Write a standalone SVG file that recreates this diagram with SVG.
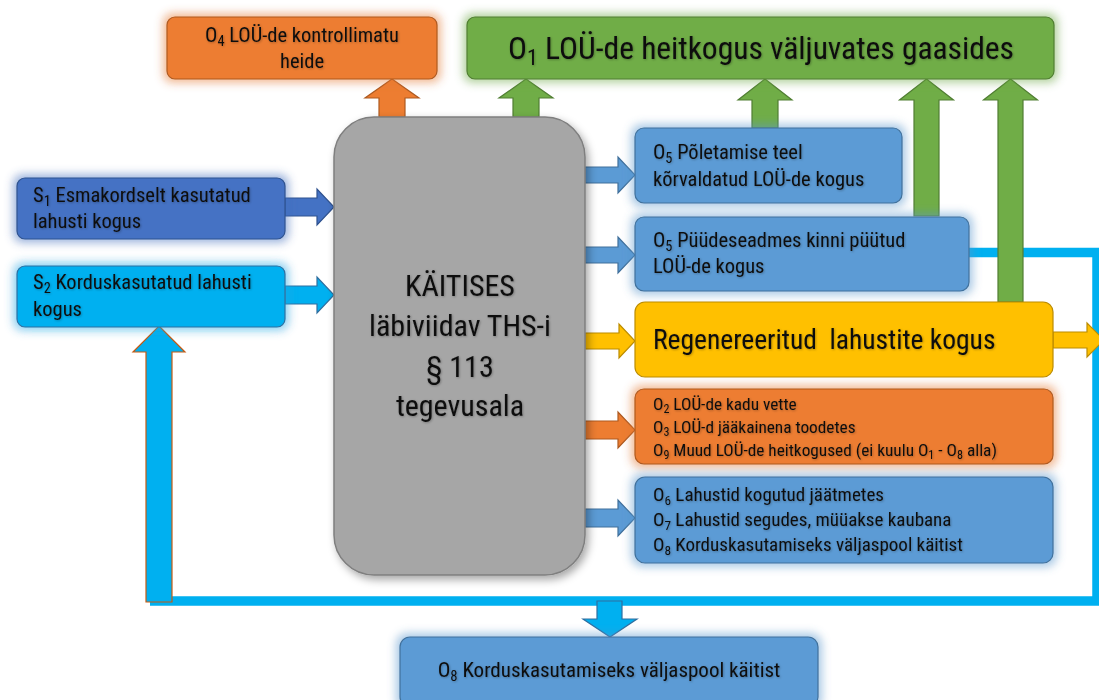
<svg xmlns="http://www.w3.org/2000/svg" width="1099" height="700" viewBox="0 0 1099 700">
<defs>
<style>
text{font-family:"Roboto Condensed","Liberation Sans Narrow",Roboto,"Liberation Sans",sans-serif;fill:#111;white-space:pre;}
.sub{font-size:70%;}
.orange{fill:#ed7d31;stroke:#ae5a21;stroke-width:1.2;}
.green{fill:#70ad47;stroke:#507e32;stroke-width:1.2;}
.blue{fill:#5b9bd5;stroke:#41719c;stroke-width:1.2;}
.dblue{fill:#4472c4;stroke:#2f528f;stroke-width:1.2;}
.cyan{fill:#00b0f0;stroke:#2f6fa0;stroke-width:1.2;}
.yellow{fill:#ffc000;stroke:#bc8c00;stroke-width:1.2;}
.gray{fill:#a6a6a6;stroke:#7f7f7f;stroke-width:1.5;}
</style>
<filter id="glow" x="-20%" y="-40%" width="140%" height="180%">
<feMorphology in="SourceGraphic" operator="dilate" radius="3" result="d"/>
<feGaussianBlur in="d" stdDeviation="5" result="b"/>
<feComponentTransfer in="b" result="c"><feFuncA type="linear" slope="0.55"/></feComponentTransfer>
<feMerge><feMergeNode in="c"/><feMergeNode in="SourceGraphic"/></feMerge>
</filter>
<filter id="shadow" x="-20%" y="-10%" width="140%" height="120%">
<feDropShadow dx="3" dy="4" stdDeviation="4" flood-color="#000" flood-opacity="0.35"/>
</filter>
<filter id="ts" x="-5%" y="-20%" width="110%" height="140%">
<feDropShadow dx="0.8" dy="0.8" stdDeviation="0.8" flood-color="#000" flood-opacity="0.3"/>
</filter>
</defs>
<rect width="1099" height="700" fill="#fff"/>

<g id="connectors">
<polyline points="969,252.5 1097,252.5 1097,601 150,601" fill="none" stroke="#00b0f0" stroke-width="9.5"/>
<polygon class="cyan" points="159,326 185,352 172,352 172,602 146,602 146,352 133,352" style="stroke:#c55a11"/>
<polygon class="cyan" points="597,601 622,601 622,619 637,619 610,637 583,619 597,619"/>
<polygon class="orange" points="392,79 419,98 405,98 405,117 379,117 379,98 365,98"/>
<polygon class="green" points="526,79 553,98 539,98 539,117 513,117 513,98 499,98"/>
<polygon class="green" points="765,79 792,100 778,100 778,128 752,128 752,100 738,100"/>
<polygon class="green" points="926.5,79 953.5,100 939,100 939,216 914,216 914,100 899.5,100"/>
<polygon class="green" points="1010.5,79 1037.5,100 1023,100 1023,302 998,302 998,100 983.5,100"/>
<polygon class="dblue" points="285,198 317,198 317,189 334,207 317,225 317,216 285,216"/>
<polygon class="cyan" points="285,286 317,286 317,277 334,295 317,313 317,304 285,304"/>
<polygon class="blue" points="585,167 618,167 618,157 635,175 618,193 618,183 585,183"/>
<polygon class="blue" points="585,247 618,247 618,237 635,255 618,273 618,263 585,263"/>
<polygon class="yellow" points="585,333 619,333 619,324 635,341 619,358 619,349 585,349"/>
<polygon class="orange" points="585,421 618,421 618,412 635,430 618,448 618,439 585,439"/>
<polygon class="blue" points="585,509 618,509 618,500 635,518 618,536 618,527 585,527"/>
<polygon class="yellow" points="1053,332 1087,332 1087,323 1104,340 1087,357 1087,348 1053,348"/>
</g>

<g id="o4">
<rect class="orange" x="167" y="17" width="270" height="62" rx="8" filter="url(#glow)"/>
<text x="302" y="42" font-size="20.5" text-anchor="middle" filter="url(#ts)">O<tspan class="sub" dy="4">4</tspan><tspan dy="-4"> LOÜ-de kontrollimatu</tspan></text>
<text x="302" y="68" font-size="20.5" text-anchor="middle" filter="url(#ts)">heide</text>
</g>

<g id="o1">
<rect class="green" x="467" y="17" width="587" height="62" rx="8" filter="url(#glow)"/>
<text x="761" y="59" font-size="31.5" text-anchor="middle" filter="url(#ts)">O<tspan class="sub" dy="6">1</tspan><tspan dy="-6"> LOÜ-de heitkogus väljuvates gaasides</tspan></text>
</g>

<g id="s1">
<rect class="dblue" x="17" y="178" width="268" height="61" rx="8" filter="url(#glow)"/>
<text x="33" y="202" font-size="20.5" filter="url(#ts)">S<tspan class="sub" dy="4">1</tspan><tspan dy="-4"> Esmakordselt kasutatud</tspan></text>
<text x="33" y="228" font-size="20.5" filter="url(#ts)">lahusti kogus</text>
</g>

<g id="s2">
<rect class="cyan" x="17" y="266" width="268" height="61" rx="8" filter="url(#glow)"/>
<text x="33" y="289" font-size="20.5" filter="url(#ts)">S<tspan class="sub" dy="4">2</tspan><tspan dy="-4"> Korduskasutatud lahusti</tspan></text>
<text x="33" y="316" font-size="20.5" filter="url(#ts)">kogus</text>
</g>

<g id="process">
<rect class="gray" x="334" y="117" width="251" height="458" rx="40" filter="url(#shadow)"/>
<text x="460" y="296" font-size="30" text-anchor="middle" filter="url(#ts)">KÄITISES</text>
<text x="460" y="336" font-size="30" text-anchor="middle" filter="url(#ts)">läbiviidav THS-i</text>
<text x="460" y="377" font-size="30" text-anchor="middle" filter="url(#ts)">§ 113</text>
<text x="460" y="416" font-size="30" text-anchor="middle" filter="url(#ts)">tegevusala</text>
</g>

<g id="o5a">
<rect class="blue" x="635" y="128" width="267" height="75" rx="9" filter="url(#glow)"/>
<text x="653" y="159" font-size="20.5" filter="url(#ts)">O<tspan class="sub" dy="4">5</tspan><tspan dy="-4"> Põletamise teel</tspan></text>
<text x="653" y="186" font-size="20.5" filter="url(#ts)">kõrvaldatud LOÜ-de kogus</text>
</g>

<g id="o5b">
<rect class="blue" x="635" y="217" width="334" height="74" rx="9" filter="url(#glow)"/>
<text x="653" y="247" font-size="20.5" filter="url(#ts)">O<tspan class="sub" dy="4">5</tspan><tspan dy="-4"> Püüdeseadmes kinni püütud</tspan></text>
<text x="653" y="273" font-size="20.5" filter="url(#ts)">LOÜ-de kogus</text>
</g>

<g id="regen">
<rect class="yellow" x="635" y="302" width="418" height="75" rx="10"/>
<text x="653" y="349" font-size="27.5" filter="url(#ts)">Regenereeritud  lahustite kogus</text>
</g>

<g id="o2o3o9">
<rect class="orange" x="635" y="389" width="418" height="75" rx="9" filter="url(#glow)"/>
<text x="653" y="410" font-size="17.3" filter="url(#ts)">O<tspan class="sub" dy="3">2</tspan><tspan dy="-3"> LOÜ-de kadu vette</tspan></text>
<text x="653" y="433" font-size="17.3" filter="url(#ts)">O<tspan class="sub" dy="3">3</tspan><tspan dy="-3"> LOÜ-d jääkainena toodetes</tspan></text>
<text x="653" y="456" font-size="17.3" filter="url(#ts)">O<tspan class="sub" dy="3">9</tspan><tspan dy="-3"> Muud LOÜ-de heitkogused (ei kuulu O</tspan><tspan class="sub" dy="3">1</tspan><tspan dy="-3"> - O</tspan><tspan class="sub" dy="3">8</tspan><tspan dy="-3"> alla)</tspan></text>
</g>

<g id="o6o7o8">
<rect class="blue" x="635" y="477" width="418" height="86" rx="10" filter="url(#glow)"/>
<text x="653" y="501" font-size="19" filter="url(#ts)">O<tspan class="sub" dy="4">6</tspan><tspan dy="-4"> Lahustid kogutud jäätmetes</tspan></text>
<text x="653" y="526" font-size="19" filter="url(#ts)">O<tspan class="sub" dy="4">7</tspan><tspan dy="-4"> Lahustid segudes, müüakse kaubana</tspan></text>
<text x="653" y="551" font-size="19" filter="url(#ts)">O<tspan class="sub" dy="4">8</tspan><tspan dy="-4"> Korduskasutamiseks väljaspool käitist</tspan></text>
</g>

<g id="o8">
<rect class="blue" x="400" y="637" width="418" height="70" rx="10" filter="url(#glow)"/>
<text x="609" y="677" font-size="21" text-anchor="middle" filter="url(#ts)">O<tspan class="sub" dy="4">8</tspan><tspan dy="-4"> Korduskasutamiseks väljaspool käitist</tspan></text>
</g>
</svg>
